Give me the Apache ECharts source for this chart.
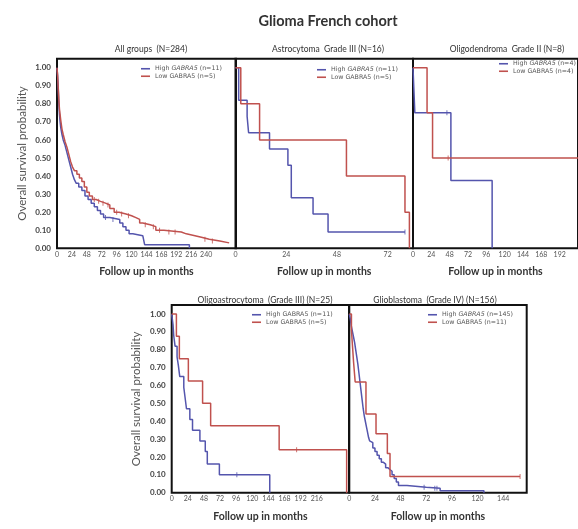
<!DOCTYPE html>
<html>
<head>
<meta charset="utf-8">
<script src="https://cdn.jsdelivr.net/npm/echarts@6/dist/echarts.min.js"></script>
<style>
html, body { margin: 0; padding: 0; background: #fff; }
#chart { width: 578px; height: 529px; }
</style>
</head>
<body>
<div id="chart"></div>
<script>
const BLUE = '#5455ad'
const RED = '#c0514e'
const FONT = 'Lato'
const LEGEND_FONT = 'DejaVu Sans'

const mainTitle = 'Glioma French cohort'
const panelTitles = [
    'All groups  (N=284)',
    'Astrocytoma  Grade III (N=16)',
    'Oligodendroma  Grade II (N=8)',
    'Oligoastrocytoma  (Grade III) (N=25)',
    'Glioblastoma  (Grade IV) (N=156)',
]
const highNames = ['High GABRA5 (n=11)', 'High GABRA5 (n=11)', 'High GABRA5 (n=4)', 'High GABRA5 (n=11)', 'High GABRA5 (n=145)']
const lowNames = ['Low GABRA5 (n=5)', 'Low GABRA5 (n=5)', 'Low GABRA5 (n=4)', 'Low GABRA5 (n=5)', 'Low GABRA5 (n=11)']
const italicHigh = [true, true, true, false, true]
const xAxisName = 'Follow up in months'
const yAxisName = 'Overall survival probability'
const xMax = [288, 84, 216, 264, 166]
const xLastLabel = [240, 72, 192, 216, 144]

// all groups
const allHighT = [0, 1, 2, 3, 4, 5, 6, 8, 10, 13, 16, 19, 22, 25, 28, 31, 35, 40, 45, 50, 55, 60, 65, 70, 75, 85, 101, 106, 111, 116, 122, 138, 141, 213]
const allHighS = [1.0, 0.95, 0.88, 0.80, 0.74, 0.70, 0.67, 0.63, 0.60, 0.57, 0.53, 0.49, 0.45, 0.41, 0.38, 0.36, 0.34, 0.32, 0.29, 0.27, 0.25, 0.23, 0.21, 0.19, 0.17, 0.16, 0.14, 0.12, 0.10, 0.08, 0.07, 0.06, 0.02, 0]
const allHighCens = [[78, 0.17], [90, 0.16]]
const allLowT = [0, 1, 2, 3, 4, 6, 8, 10, 13, 16, 19, 22, 25, 28, 32, 36, 40, 44, 48, 52, 57, 63, 70, 78, 85, 92, 100, 111, 120, 127, 133, 138, 150, 159, 172, 200, 208, 222, 234, 245, 262, 277]
const allLowS = [1.0, 0.96, 0.89, 0.82, 0.77, 0.71, 0.66, 0.63, 0.59, 0.56, 0.52, 0.48, 0.45, 0.43, 0.41, 0.39, 0.37, 0.34, 0.31, 0.29, 0.27, 0.26, 0.25, 0.24, 0.22, 0.20, 0.19, 0.18, 0.17, 0.16, 0.14, 0.13, 0.12, 0.10, 0.09, 0.08, 0.07, 0.06, 0.05, 0.04, 0.03, 0.03]
const allLowCens = [[60, 0.27], [67, 0.26], [74, 0.25], [82, 0.24], [96, 0.20], [104, 0.19], [115, 0.18], [142, 0.13], [155, 0.12], [165, 0.10], [180, 0.09], [190, 0.09], [238, 0.05], [250, 0.04]]

// astrocytoma grade III
const astroHighT = [0, 1.5, 5.5, 6.2, 16.1, 24.8, 26.4, 36.7, 43.8, 80.2]
const astroHighS = [1, 0.82, 0.73, 0.64, 0.55, 0.46, 0.28, 0.19, 0.09, 0.09]
const astroHighCens = [[80.2, 0.09]]
const astroLowT = [0, 2.5, 11.4, 52.5, 80.2, 82.3]
const astroLowS = [1, 0.8, 0.6, 0.4, 0.2, 0]
const astroLowCens = []

// oligodendroma grade II
const oligoHighT = [0, 2.4, 49.6, 103.6]
const oligoHighS = [1, 0.75, 0.375, 0]
const oligoHighCens = [[44.4, 0.75]]
const oligoLowT = [0, 18.4, 25.6, 216]
const oligoLowS = [1, 0.75, 0.5, 0.5]
const oligoLowCens = [[46, 0.5]]

// oligoastrocytoma grade III
const oaHighT = [0, 2, 3, 5, 8, 10, 12, 18, 20, 22, 27, 31, 42, 50, 53, 71, 146]
const oaHighS = [1, 0.94, 0.88, 0.82, 0.76, 0.71, 0.65, 0.59, 0.53, 0.47, 0.41, 0.35, 0.29, 0.23, 0.16, 0.10, 0]
const oaHighCens = [[97, 0.10]]
const oaLowT = [0, 7, 11.4, 24.8, 46, 58, 160, 260.5]
const oaLowS = [1, 0.875, 0.75, 0.625, 0.5, 0.375, 0.24, 0]
const oaLowCens = [[186, 0.24]]

// glioblastoma grade IV
const gbmHighT = [0, 1, 2, 3, 4, 5, 6, 7, 8, 9, 10, 11, 12, 13, 14, 15, 16, 17, 18, 19, 20, 22, 24, 26, 28, 30, 32, 34, 36, 38, 40, 42, 44, 46, 54, 72, 85, 126]
const gbmHighS = [1, 0.97, 0.93, 0.90, 0.87, 0.84, 0.80, 0.76, 0.72, 0.67, 0.62, 0.57, 0.52, 0.47, 0.43, 0.40, 0.37, 0.34, 0.31, 0.29, 0.28, 0.25, 0.23, 0.21, 0.19, 0.17, 0.16, 0.14, 0.13, 0.12, 0.10, 0.08, 0.06, 0.04, 0.03, 0.025, 0.011, 0]
const gbmHighCens = [[70, 0.03], [80, 0.025], [82, 0.025]]
const gbmLowT = [0, 2, 3, 4, 5.5, 15.6, 25, 35.6, 38.1, 159.8]
const gbmLowS = [1, 0.91, 0.82, 0.73, 0.62, 0.44, 0.33, 0.22, 0.09, 0.09]
const gbmLowCens = [[159.8, 0.09]]

const panels = [
    { high: [allHighT, allHighS, allHighCens], low: [allLowT, allLowS, allLowCens] },
    { high: [astroHighT, astroHighS, astroHighCens], low: [astroLowT, astroLowS, astroLowCens] },
    { high: [oligoHighT, oligoHighS, oligoHighCens], low: [oligoLowT, oligoLowS, oligoLowCens] },
    { high: [oaHighT, oaHighS, oaHighCens], low: [oaLowT, oaLowS, oaLowCens] },
    { high: [gbmHighT, gbmHighS, gbmHighCens], low: [gbmLowT, gbmLowS, gbmLowCens] },
]

// layout (px)
const grids = [
    { left: 57, top: 58.7, width: 179, height: 189.6 },
    { left: 235.5, top: 58.7, width: 177.5, height: 189.6 },
    { left: 413, top: 58.7, width: 180, height: 189.6 },
    { left: 171.7, top: 305.1, width: 177.3, height: 187.6 },
    { left: 349.3, top: 305.1, width: 177.4, height: 187.6 },
]
const titleX = [146, 323, 502, 260, 430]
const titleY = [40, 40, 40, 291, 291]
const legendPos = [[141, 65], [317, 66], [499, 60], [252, 311], [428, 311]]
const showYLabels = [true, false, false, true, false]

// Kaplan-Meier step path: value holds until the next event time
const stepPath = (times, surv) => {
    const pts = [[times[0], surv[0]]]
    for (let i = 1; i < times.length; i++) {
        pts.push([times[i], surv[i - 1]], [times[i], surv[i]])
    }
    return pts
}

const chart = echarts.init(document.getElementById('chart'))

const series = []
panels.forEach((panel, i) => {
    const groups = [
        { name: highNames[i], color: BLUE, d: panel.high },
        { name: lowNames[i], color: RED, d: panel.low },
    ]
    groups.forEach(g => {
        series.push({
            name: g.name,
            type: 'line',
            xAxisIndex: i,
            yAxisIndex: i,
            showSymbol: false,
            animation: false,
            data: stepPath(g.d[0], g.d[1]),
            lineStyle: { color: g.color, width: 1.5 },
            itemStyle: { color: g.color },
        })
        if (g.d[2].length) {
            series.push({
                name: g.name + ' censored',
                type: 'scatter',
                xAxisIndex: i,
                yAxisIndex: i,
                symbol: 'rect',
                symbolSize: [1, 5],
                silent: true,
                animation: false,
                data: g.d[2],
                itemStyle: { color: g.color },
            })
        }
    })
})

chart.setOption({
    textStyle: { fontFamily: FONT },
    title: [
        {
            text: mainTitle,
            left: 323,
            top: 9,
            textAlign: 'center',
            textStyle: { fontFamily: FONT, fontSize: 14.5, fontWeight: 'bold', color: '#333' },
        },
        ...panelTitles.map((t, i) => ({
            text: t,
            left: titleX[i],
            top: titleY[i],
            textAlign: 'center',
            textStyle: { fontFamily: FONT, fontSize: 8.5, fontWeight: 'normal', color: '#333' },
        })),
    ],
    legend: panels.map((p, i) => ({
        orient: 'vertical',
        left: legendPos[i][0],
        top: legendPos[i][1],
        padding: 0,
        itemGap: 0,
        itemWidth: 9,
        itemHeight: 1.6,
        icon: 'rect',
        selectedMode: false,
        data: [highNames[i], lowNames[i]],
        formatter: name => {
            const parts = name.split(' ')
            if (italicHigh[i] && parts[0] === 'High') {
                return `{n|${parts[0]} }{i|${parts[1]}}{n| ${parts[2]}}`
            }
            return `{n|${name}}`
        },
        textStyle: {
            fontFamily: LEGEND_FONT,
            fontSize: 6.3,
            color: '#555',
            lineHeight: 7.5,
            rich: {
                n: { fontFamily: LEGEND_FONT, fontSize: 6.3, color: '#555', lineHeight: 7.5 },
                i: { fontFamily: LEGEND_FONT, fontSize: 6.3, color: '#555', fontStyle: 'italic', lineHeight: 7.5 },
            },
        },
    })),
    grid: grids.map(g => ({
        ...g,
        show: true,
        borderColor: '#111',
        borderWidth: 2,
        backgroundColor: 'transparent',
        containLabel: false,
    })),
    xAxis: grids.map((g, i) => ({
        type: 'value',
        gridIndex: i,
        min: 0,
        max: xMax[i],
        interval: 24,
        name: xAxisName,
        nameLocation: 'middle',
        nameGap: 18,
        nameTextStyle: { fontFamily: FONT, fontSize: 10.5, fontWeight: 'bold', color: '#333' },
        axisLine: { show: false },
        axisTick: { show: false },
        splitLine: { show: false },
        axisLabel: {
            fontFamily: FONT,
            fontSize: 7,
            color: '#555',
            margin: 3,
            showMaxLabel: false,
            formatter: v => (v <= xLastLabel[i] ? String(v) : ''),
        },
    })),
    yAxis: grids.map((g, i) => ({
        type: 'value',
        gridIndex: i,
        min: 0,
        max: 1.05,
        interval: 0.1,
        name: showYLabels[i] ? yAxisName : '',
        nameLocation: 'middle',
        nameGap: 29,
        nameTextStyle: { fontFamily: FONT, fontSize: 11.5, color: '#555' },
        axisLine: { show: false },
        axisTick: { show: false },
        splitLine: { show: false },
        axisLabel: {
            show: showYLabels[i],
            fontFamily: FONT,
            fontSize: 8,
            fontWeight: 'bold',
            color: '#444',
            margin: 6,
            showMaxLabel: false,
            formatter: v => (v <= 1.0001 ? v.toFixed(2) : ''),
        },
    })),
    series: series,
})
</script>
</body>
</html>
